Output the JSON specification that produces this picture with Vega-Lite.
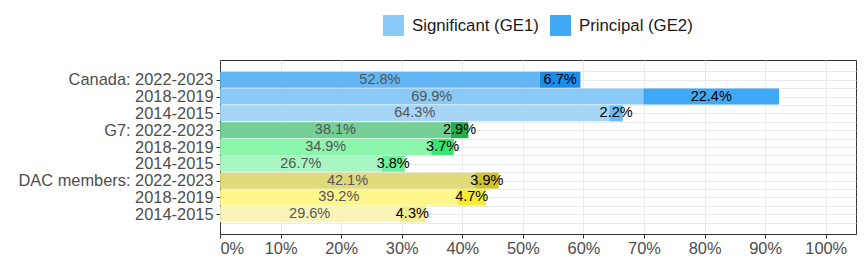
{
  "$schema": "https://vega.github.io/schema/vega-lite/v6.json",
  "autosize": "none",
  "width": 636,
  "height": 174,
  "padding": {"left": 220, "top": 60, "right": 8, "bottom": 30},
  "background": "white",
  "config": {
    "font": "Liberation Sans",
    "view": {"stroke": "#333333", "strokeWidth": 1},
    "axis": {
      "domainColor": "#333333",
      "tickColor": "#333333",
      "tickSize": 4,
      "gridColor": "#EBEBEB",
      "gridWidth": 1,
      "labelColor": "#4D4D4D",
      "labelFont": "Liberation Sans",
      "labelFontSize": 16.4,
      "labelLimit": 400,
      "title": null
    }
  },
  "data": {
    "values": [
      {"row": 1, "group": "Canada", "period": "2022-2023", "type": "Significant (GE1)", "value": 52.8},
      {"row": 1, "group": "Canada", "period": "2022-2023", "type": "Principal (GE2)", "value": 6.7},
      {"row": 2, "group": "Canada", "period": "2018-2019", "type": "Significant (GE1)", "value": 69.9},
      {"row": 2, "group": "Canada", "period": "2018-2019", "type": "Principal (GE2)", "value": 22.4},
      {"row": 3, "group": "Canada", "period": "2014-2015", "type": "Significant (GE1)", "value": 64.3},
      {"row": 3, "group": "Canada", "period": "2014-2015", "type": "Principal (GE2)", "value": 2.2},
      {"row": 4, "group": "G7", "period": "2022-2023", "type": "Significant (GE1)", "value": 38.1},
      {"row": 4, "group": "G7", "period": "2022-2023", "type": "Principal (GE2)", "value": 2.9},
      {"row": 5, "group": "G7", "period": "2018-2019", "type": "Significant (GE1)", "value": 34.9},
      {"row": 5, "group": "G7", "period": "2018-2019", "type": "Principal (GE2)", "value": 3.7},
      {"row": 6, "group": "G7", "period": "2014-2015", "type": "Significant (GE1)", "value": 26.7},
      {"row": 6, "group": "G7", "period": "2014-2015", "type": "Principal (GE2)", "value": 3.8},
      {"row": 7, "group": "DAC members", "period": "2022-2023", "type": "Significant (GE1)", "value": 42.1},
      {"row": 7, "group": "DAC members", "period": "2022-2023", "type": "Principal (GE2)", "value": 3.9},
      {"row": 8, "group": "DAC members", "period": "2018-2019", "type": "Significant (GE1)", "value": 39.2},
      {"row": 8, "group": "DAC members", "period": "2018-2019", "type": "Principal (GE2)", "value": 4.7},
      {"row": 9, "group": "DAC members", "period": "2014-2015", "type": "Significant (GE1)", "value": 29.6},
      {"row": 9, "group": "DAC members", "period": "2014-2015", "type": "Principal (GE2)", "value": 4.3}
    ]
  },
  "transform": [
    {"stack": "value", "groupby": ["row"], "sort": [{"field": "type", "order": "descending"}], "as": ["x0", "x1"]},
    {"calculate": "(datum.x0 + datum.x1) / 2", "as": "mid"},
    {"calculate": "format(datum.value, '.1f') + '%'", "as": "label"},
    {"calculate": "datum.group + ' ' + datum.period + '|' + datum.type", "as": "key"}
  ],
  "encoding": {
    "y": {
      "field": "row",
      "type": "quantitative",
      "scale": {"domain": [0.123, 9.877], "reverse": true, "nice": false, "zero": false},
      "axis": {
        "values": [0.5, 1, 1.5, 2, 2.5, 3, 3.5, 4, 4.5, 5, 5.5, 6, 6.5, 7, 7.5, 8, 8.5, 9, 9.5],
        "labelExpr": "datum.value % 1 === 0 ? ['', 'Canada: 2022-2023', '2018-2019', '2014-2015', 'G7: 2022-2023', '2018-2019', '2014-2015', 'DAC members: 2022-2023', '2018-2019', '2014-2015'][datum.value] : ''",
        "tickOpacity": {"condition": {"test": "datum.value % 1 !== 0", "value": 0}, "value": 1},
        "labelPadding": 3,
        "grid": true
      }
    }
  },
  "layer": [
    {
      "mark": {"type": "bar", "size": 16, "opacity": 0.9},
      "encoding": {
        "x": {
          "field": "x0",
          "type": "quantitative",
          "scale": {"domain": [0, 105], "nice": false},
          "axis": {
            "values": [0, 5, 10, 15, 20, 25, 30, 35, 40, 45, 50, 55, 60, 65, 70, 75, 80, 85, 90, 95, 100],
            "labelExpr": "datum.value % 10 === 0 ? datum.value + '%' : ''",
            "tickOpacity": {"condition": {"test": "datum.value % 10 !== 0", "value": 0}, "value": 1},
            "labelPadding": 2,
            "grid": true
          }
        },
        "x2": {"field": "x1"},
        "color": {
          "field": "key",
          "type": "nominal",
          "scale": {
            "domain": [
              "Canada 2022-2023|Significant (GE1)", "Canada 2022-2023|Principal (GE2)",
              "Canada 2018-2019|Significant (GE1)", "Canada 2018-2019|Principal (GE2)",
              "Canada 2014-2015|Significant (GE1)", "Canada 2014-2015|Principal (GE2)",
              "G7 2022-2023|Significant (GE1)", "G7 2022-2023|Principal (GE2)",
              "G7 2018-2019|Significant (GE1)", "G7 2018-2019|Principal (GE2)",
              "G7 2014-2015|Significant (GE1)", "G7 2014-2015|Principal (GE2)",
              "DAC members 2022-2023|Significant (GE1)", "DAC members 2022-2023|Principal (GE2)",
              "DAC members 2018-2019|Significant (GE1)", "DAC members 2018-2019|Principal (GE2)",
              "DAC members 2014-2015|Significant (GE1)", "DAC members 2014-2015|Principal (GE2)"
            ],
            "range": [
              "#52ADF2", "#027FE6",
              "#7DC4F7", "#2BA0F4",
              "#9CD0F5", "#5CB1F2",
              "#64CA88", "#09A739",
              "#7FF5A4", "#24E460",
              "#9FF6BB", "#5FEE8F",
              "#DDD66D", "#CABD0F",
              "#FFF57F", "#F8EA24",
              "#F8F4B0", "#F5EC82"
            ]
          },
          "legend": {
            "values": ["Canada 2018-2019|Significant (GE1)", "Canada 2018-2019|Principal (GE2)"],
            "labelExpr": "split(datum.label, '|')[1]",
            "title": null,
            "orient": "none",
            "direction": "horizontal",
            "legendX": 163,
            "legendY": -45,
            "symbolType": "square",
            "symbolSize": 441,
            "symbolOpacity": 0.9,
            "symbolStrokeWidth": 0,
            "labelFontSize": 16.8,
            "labelFont": "Liberation Sans",
            "labelColor": "#1A1A1A",
            "labelOffset": 8,
            "labelLimit": 300,
            "columnPadding": 11,
            "padding": 0
          }
        }
      }
    },
    {
      "mark": {"type": "text", "fontSize": 14.5, "font": "Liberation Sans", "align": "center", "baseline": "middle"},
      "encoding": {
        "x": {"field": "mid", "type": "quantitative"},
        "text": {"field": "label", "type": "nominal"},
        "color": {"condition": {"test": "datum.type === 'Principal (GE2)'", "value": "#000000"}, "value": "#555555"}
      }
    }
  ]
}
